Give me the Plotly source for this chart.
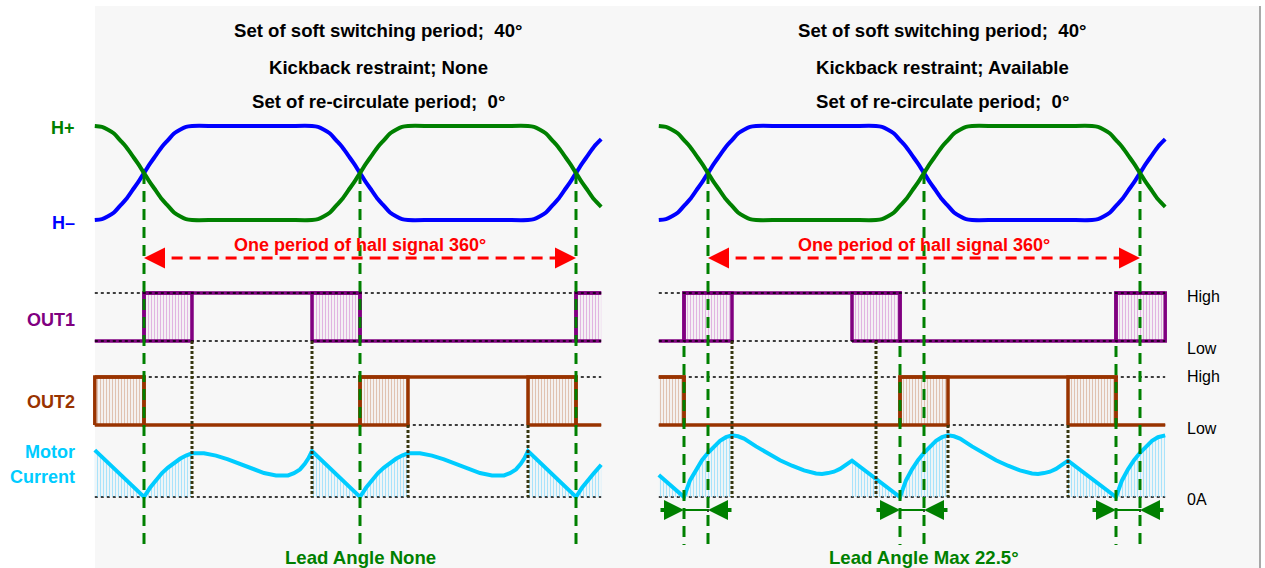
import plotly.graph_objects as go

W, H = 1265, 568

# ---------------- data (x in electrical degrees, 0 = hall crossing) ----------------
HALL_DEG = [-41, -35, -30, -25, -20, -15, -10, -5, 0, 5, 10, 15, 20, 25, 30, 35, 40,
            60, 80, 100, 120,
            140, 145, 150, 155, 160, 165, 170, 175, 180, 185, 190, 195, 200, 205, 210, 215, 220,
            240, 260, 280, 300,
            320, 325, 330, 335, 340, 345, 350, 355, 360, 365, 370, 375, 381]
H_PLUS = [1.0, 0.99, 0.96, 0.92, 0.85, 0.78, 0.69, 0.60, 0.50, 0.40, 0.31, 0.22, 0.15, 0.08, 0.04, 0.01, 0.0,
          0.0, 0.0, 0.0, 0.0,
          0.0, 0.01, 0.04, 0.08, 0.15, 0.22, 0.31, 0.40, 0.50, 0.60, 0.69, 0.78, 0.85, 0.92, 0.96, 0.99, 1.0,
          1.0, 1.0, 1.0, 1.0,
          1.0, 0.99, 0.96, 0.92, 0.85, 0.78, 0.69, 0.60, 0.50, 0.40, 0.31, 0.22, 0.14]
H_MINUS = [0.0, 0.01, 0.04, 0.08, 0.15, 0.22, 0.31, 0.40, 0.50, 0.60, 0.69, 0.78, 0.85, 0.92, 0.96, 0.99, 1.0,
           1.0, 1.0, 1.0, 1.0,
           1.0, 0.99, 0.96, 0.92, 0.85, 0.78, 0.69, 0.60, 0.50, 0.40, 0.31, 0.22, 0.15, 0.08, 0.04, 0.01, 0.0,
           0.0, 0.0, 0.0, 0.0,
           0.0, 0.01, 0.04, 0.08, 0.15, 0.22, 0.31, 0.40, 0.50, 0.60, 0.69, 0.78, 0.86]
HALL_CROSS = [0, 180, 360]
PANEL_DEG = [-41, 381]

# left panel: lead angle none
OUT1_A_EDGE = [-41, 0, 180, 360, 381]
OUT1_A_LVL = [0, 1, 0, 1, 1]
OUT1_A_SOFT = [(0, 40), (140, 180), (360, 381)]
OUT2_A_EDGE = [-41, 0, 180, 360, 381]
OUT2_A_LVL = [1, 0, 1, 0, 0]
OUT2_A_SOFT = [(-41, 0), (180, 220), (320, 360)]
OPEN_A = [("out1", 381)]          # box sides left open at the panel edge
CUR_A_DEG = [-41, 0, 5, 10, 15, 20, 25, 30, 35, 40, 50, 60, 70, 80, 90, 100, 110,
             115, 120, 125, 130, 134, 137, 140,
             180, 185, 190, 195, 200, 205, 210, 215, 220, 230, 240, 250, 260, 270, 280, 290,
             295, 300, 305, 310, 314, 317, 320,
             360, 365, 370, 375, 381]
CUR_A = [1.02, 0.0, 0.20, 0.37, 0.52, 0.64, 0.74, 0.83, 0.90, 0.95, 0.95, 0.90, 0.82, 0.72, 0.61, 0.52, 0.47,
         0.46, 0.47, 0.52, 0.60, 0.72, 0.84, 1.0,
         0.0, 0.20, 0.37, 0.52, 0.64, 0.74, 0.83, 0.90, 0.95, 0.95, 0.90, 0.82, 0.72, 0.61, 0.52, 0.47,
         0.46, 0.47, 0.52, 0.60, 0.72, 0.84, 1.0,
         0.0, 0.20, 0.37, 0.52, 0.70]
CUR_A_HATCH = [(-41, 40), (140, 220), (320, 381)]
DOTS_A = [(40, "out1"), (140, "out1"), (220, "out2"), (320, "out2")]

# right panel: lead angle max
LEAD_B = [-20, 160, 340]
OUT1_B_EDGE = [-41, -20, 160, 340, 381]
OUT1_B_LVL = [0, 1, 0, 1, 1]
OUT1_B_SOFT = [(-20, 20), (120, 160), (340, 381)]
OUT2_B_EDGE = [-41, -20, 160, 340, 381]
OUT2_B_LVL = [1, 0, 1, 0, 0]
OUT2_B_SOFT = [(-41, -20), (160, 200), (300, 340)]
OPEN_B = [("out2", -41)]
CUR_B_DEG = [-41, -20, -15, -10, -5, 0, 5, 10, 15, 20, 25, 30, 40, 50, 60, 70, 80, 90,
             95, 100, 105, 110, 115, 120,
             160, 165, 170, 175, 180, 185, 190, 195, 200, 205, 210, 220, 230, 240, 250, 260, 270,
             275, 280, 285, 290, 295, 300,
             340, 345, 350, 355, 360, 365, 370, 375, 381]
CUR_B = [0.48, 0.0, 0.36, 0.60, 0.80, 0.96, 1.10, 1.22, 1.30, 1.34, 1.32, 1.27, 1.10, 0.95, 0.80, 0.68, 0.58, 0.51,
         0.50, 0.52, 0.55, 0.61, 0.69, 0.79,
         0.0, 0.36, 0.60, 0.80, 0.96, 1.10, 1.22, 1.30, 1.34, 1.32, 1.27, 1.10, 0.95, 0.80, 0.68, 0.58, 0.51,
         0.50, 0.52, 0.55, 0.61, 0.69, 0.79,
         0.0, 0.36, 0.60, 0.80, 0.96, 1.10, 1.22, 1.30, 1.34]
CUR_B_HATCH = [(-41, 20), (120, 200), (300, 381)]
DOTS_B = [(20, "out1"), (140, "out1"), (200, "out2"), (300, "out2")]

TITLES_A = ["Set of soft switching period;  40°", "Kickback restraint; None", "Set of re-circulate period;  0°"]
TITLES_B = ["Set of soft switching period;  40°", "Kickback restraint; Available", "Set of re-circulate period;  0°"]
PERIOD_LABEL = "One period of hall signal 360°"
BOTTOM_A = "Lead Angle None"
BOTTOM_B = "Lead Angle Max 22.5°"

# ---------------- layout geometry ----------------
FONT = "Liberation Sans, Arial, sans-serif"
GREEN, BLUE, PURPLE, BROWN, CYAN, RED = "#008000", "#0000ff", "#800080", "#993300", "#00ccff", "#ff0000"
ZERO_PX = {"x": 144, "x2": 708}
PX_PER_DEG = 1.2
SPLIT_PX = 629
ROWS = {"hall": (220, 126), "out1": (341, 293), "out2": (425, 377), "cur": (497, 451)}
ROW_AXIS = {"hall": "y", "out1": "y2", "out2": "y3", "cur": "y4"}
LVL_RANGE = [-0.3, 1.5]
TITLE_DEG = 195


def py(px):
    return 1 - px / H


def row_px(row, level):
    lo, hi = ROWS[row]
    return lo - level * (lo - hi)


fig = go.Figure()


def line(xa, row, x, y, color, width, dash=None, shape="linear"):
    ln = dict(color=color, width=width, dash=dash, shape=shape)
    if shape == "spline":
        ln["smoothing"] = 0.8
    fig.add_trace(go.Scatter(x=x, y=y, xaxis=xa, yaxis=ROW_AXIS[row], mode="lines", line=ln,
                             hoverinfo="skip", showlegend=False))


def hatch_box(xa, row, a, b, color, hatch, open_sides):
    fig.add_trace(go.Scatter(x=[a, b, b, a, a], y=[0, 0, 1, 1, 0], xaxis=xa, yaxis=ROW_AXIS[row],
                             mode="lines", fill="toself", fillcolor="rgba(0,0,0,0)",
                             fillpattern=dict(shape="|", fgcolor=hatch, bgcolor="rgba(0,0,0,0)",
                                              size=3, solidity=0.4),
                             line=dict(width=0), hoverinfo="skip", showlegend=False))
    if (row, b) in open_sides:
        xs, ys = [b, a, a, b], [0, 0, 1, 1]
    elif (row, a) in open_sides:
        xs, ys = [a, b, b, a], [0, 0, 1, 1]
    else:
        xs, ys = [a, b, b, a, a], [0, 0, 1, 1, 0]
    line(xa, row, xs, ys, color, 3.5)


def panel(xa, out1, out1_soft, out2, out2_soft, open_sides, cur, cur_hatch):
    # OUT2 row: reference dots under the trace
    for lvl in (0, 1):
        line(xa, "out2", PANEL_DEG, [lvl, lvl], "black", 1.5, dash="dot")
    for a, b in out2_soft:
        hatch_box(xa, "out2", a, b, BROWN, "#c98e6c", open_sides)
    line(xa, "out2", out2[0], out2[1], BROWN, 3.5, shape="hv")
    # OUT1 row: reference dots over the trace
    for a, b in out1_soft:
        hatch_box(xa, "out1", a, b, PURPLE, "#cc70cc", open_sides)
    line(xa, "out1", out1[0], out1[1], PURPLE, 3.5, shape="hv")
    for lvl in (0, 1):
        line(xa, "out1", PANEL_DEG, [lvl, lvl], "black", 1.5, dash="dot")
    # motor current
    line(xa, "cur", PANEL_DEG, [0, 0], "black", 1.5, dash="dot")
    deg, val = cur
    for a, b in cur_hatch:
        xs = [d for d in deg if a <= d <= b]
        ys = [v for d, v in zip(deg, val) if a <= d <= b]
        fig.add_trace(go.Scatter(x=xs, y=ys, xaxis=xa, yaxis="y4", mode="lines", fill="tozeroy",
                                 fillcolor="rgba(0,0,0,0)",
                                 fillpattern=dict(shape="|", fgcolor="#5ccfff", bgcolor="rgba(0,0,0,0)",
                                                  size=3, solidity=0.4),
                                 line=dict(width=0), hoverinfo="skip", showlegend=False))
    line(xa, "cur", deg, val, CYAN, 4)
    # hall signals
    line(xa, "hall", HALL_DEG, H_MINUS, BLUE, 4, shape="spline")
    line(xa, "hall", HALL_DEG, H_PLUS, GREEN, 4, shape="spline")


panel("x", (OUT1_A_EDGE, OUT1_A_LVL), OUT1_A_SOFT, (OUT2_A_EDGE, OUT2_A_LVL), OUT2_A_SOFT, OPEN_A,
      (CUR_A_DEG, CUR_A), CUR_A_HATCH)
panel("x2", (OUT1_B_EDGE, OUT1_B_LVL), OUT1_B_SOFT, (OUT2_B_EDGE, OUT2_B_LVL), OUT2_B_SOFT, OPEN_B,
      (CUR_B_DEG, CUR_B), CUR_B_HATCH)

shapes = [
    dict(type="rect", xref="paper", yref="paper", x0=95 / W, x1=1260 / W, y0=0, y1=py(6),
         fillcolor="#f7f7f7", line=dict(width=0), layer="below"),
    dict(type="line", xref="paper", yref="paper", x0=1260 / W, x1=1260 / W, y0=0, y1=py(6),
         line=dict(color="#8c8c8c", width=1.5)),
]
annotations = []
BOTTOM_PX = 545


def label(x, y, text, color, size=18, bold=True, xref="paper", xanchor="center"):
    annotations.append(dict(x=x, y=y, xref=xref, yref="paper", text=text, showarrow=False,
                            xanchor=xanchor, yanchor="middle",
                            font=dict(family=FONT, size=size, color=color,
                                      weight="bold" if bold else "normal")))


for xa, dots, titles, bottom in (("x", DOTS_A, TITLES_A, BOTTOM_A), ("x2", DOTS_B, TITLES_B, BOTTOM_B)):
    # dark dotted markers of the soft switching edges
    for d, row in dots:
        shapes.append(dict(type="line", xref=xa, yref="paper", x0=d, x1=d,
                           y0=py(row_px(row, 0)), y1=py(row_px("cur", 0)),
                           line=dict(color="#36360f", width=3, dash="3px,2px")))
    if xa == "x2":
        for c in HALL_CROSS:
            shapes.append(dict(type="line", xref=xa, yref="paper", x0=c, x1=c,
                               y0=py(row_px("cur", 0)), y1=py(523),
                               line=dict(color="black", width=1.5, dash="dot")))
    for c in HALL_CROSS:
        shapes.append(dict(type="line", xref=xa, yref="paper", x0=c, x1=c,
                           y0=py(row_px("hall", 0.5)), y1=py(BOTTOM_PX),
                           line=dict(color=GREEN, width=3, dash="11px,7px")))
    # period arrow
    shapes.append(dict(type="line", xref=xa, yref="paper", x0=HALL_CROSS[0] + 8, x1=HALL_CROSS[-1] - 8,
                       y0=py(258), y1=py(258), line=dict(color=RED, width=3, dash="11px,7px")))
    for tip, off in ((HALL_CROSS[0], 15), (HALL_CROSS[-1], -15)):
        annotations.append(dict(x=tip, y=py(258), xref=xa, yref="paper", text="", showarrow=True,
                                ax=off, ay=0, arrowhead=2, arrowsize=1.4, arrowwidth=3, arrowcolor=RED))
    label(180, py(245), PERIOD_LABEL, RED, xref=xa)
    for t, ypx in zip(titles, (30, 67, 102)):
        label(TITLE_DEG, py(ypx), t, "black", size=18.6, xref=xa)
    label(180, py(557), bottom, GREEN, size=18.6, xref=xa)

# lead angle markers in the right panel
for lead, c in zip(LEAD_B, HALL_CROSS):
    shapes.append(dict(type="line", xref="x2", yref="paper", x0=lead, x1=lead,
                       y0=py(row_px("out1", 0) + 5), y1=py(BOTTOM_PX),
                       line=dict(color=GREEN, width=3, dash="11px,7px")))
    shapes.append(dict(type="line", xref="x2", yref="paper", x0=lead, x1=c, y0=py(510), y1=py(510),
                       line=dict(color=GREEN, width=2)))
    for tip, off in ((lead, -25), (c, 25)):
        annotations.append(dict(x=tip, y=py(510), xref="x2", yref="paper", text="", showarrow=True,
                                ax=off, ay=0, arrowhead=2, arrowsize=1.0, arrowwidth=4, arrowcolor=GREEN))

# row labels
for text, ypx, color in (("H+", 128, GREEN), ("H–", 223, BLUE), ("OUT1", 320, PURPLE),
                         ("OUT2", 402, BROWN), ("Motor", 452, CYAN), ("Current", 477, CYAN)):
    label(77 / W, py(ypx), text, color, xanchor="right")
for text, row, lvl, shift in (("High", "out1", 1, 3), ("Low", "out1", 0, 7), ("High", "out2", 1, -1),
                              ("Low", "out2", 0, 3), ("0A", "cur", 0, 2)):
    label(1185 / W, py(row_px(row, lvl) + shift), text, "black", size=16, bold=False, xanchor="left")

layout_axes = {}
for xa, key in (("x", "xaxis"), ("x2", "xaxis2")):
    if xa == "x":
        dom = [0, SPLIT_PX / W]
        px0, px1 = 0, SPLIT_PX
    else:
        dom = [SPLIT_PX / W, 1]
        px0, px1 = SPLIT_PX, W
    layout_axes[key] = dict(domain=dom, range=[(px0 - ZERO_PX[xa]) / PX_PER_DEG, (px1 - ZERO_PX[xa]) / PX_PER_DEG],
                            visible=False, fixedrange=True)
for row, ax in ROW_AXIS.items():
    key = "yaxis" + ax[1:]
    d0 = max(0, py(row_px(row, LVL_RANGE[0])))
    d1 = min(1, py(row_px(row, LVL_RANGE[1])))
    layout_axes[key] = dict(domain=[d0, d1], range=LVL_RANGE, visible=False, fixedrange=True, anchor="x")

fig.update_layout(
    width=W, height=H, margin=dict(l=0, r=0, t=0, b=0),
    paper_bgcolor="white", plot_bgcolor="rgba(0,0,0,0)",
    showlegend=False, hovermode=False,
    shapes=shapes, annotations=annotations,
    **layout_axes,
)

# the page body has a default 8px margin; drop it so the figure sits at the window origin
fig.write_html("out.html", config={"displayModeBar": False},
               post_script="document.body.style.margin='0';")
